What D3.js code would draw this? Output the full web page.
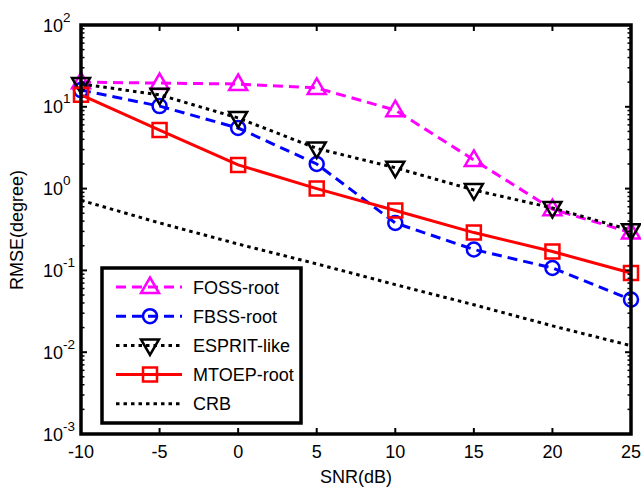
<!DOCTYPE html>
<html><head><meta charset="utf-8">
<script src="https://cdn.jsdelivr.net/npm/d3@7"></script>
<style>body{margin:0;background:#fff}svg{display:block}text{font-family:"Liberation Sans",Arial,sans-serif;fill:#000}</style>
</head><body><svg id="c" width="641" height="489"></svg>
<script>
const snr = [-10, -5, 0, 5, 10, 15, 20, 25];
const xTicks = [-10, -5, 0, 5, 10, 15, 20, 25];
const yTickExps = [-3, -2, -1, 0, 1, 2];
const fossRoot   = [20, 19.5, 19, 17, 9.1, 2.24, 0.56, 0.29];
const fbssRoot   = [16, 10.2, 5.5, 2.0, 0.38, 0.18, 0.107, 0.044];
const espritLike = [19, 14, 7.3, 3.1, 1.8, 0.96, 0.58, 0.31];
const mtoepRoot  = [14, 5.2, 1.95, 1.0, 0.54, 0.29, 0.17, 0.093];
const crb        = [0.72, 0.38, 0.21, 0.12, 0.067, 0.038, 0.021, 0.012];
const seriesNames = ["FOSS-root", "FBSS-root", "ESPRIT-like", "MTOEP-root", "CRB"];

const series = [
  {name: seriesNames[0], values: fossRoot, color: "#ff00ff", dash: "10,6", marker: "up"},
  {name: seriesNames[1], values: fbssRoot, color: "#0000ff", dash: "10,6", marker: "circle"},
  {name: seriesNames[2], values: espritLike, color: "#000000", dash: "3.5,4", marker: "down"},
  {name: seriesNames[3], values: mtoepRoot, color: "#ff0000", dash: null, marker: "square"},
  {name: seriesNames[4], values: crb, color: "#000000", dash: "3.5,4", marker: null}
];

const svg = d3.select("#c");
const L = 81, R = 631, T = 25, B = 434;
const x = d3.scaleLinear().domain([-10, 25]).range([L, R]);
const y = d3.scaleLog().domain([1e-3, 1e2]).range([B, T]);

const plot = svg.append("g");
const clip = svg.append("clipPath").attr("id","clp").append("rect")
  .attr("x", L-12).attr("y", T).attr("width", R-L+24).attr("height", B-T);

function markerPath(type) {
  if (type === "up") return "M0,-9.5L9,6L-9,6Z";
  if (type === "down") return "M0,9.5L9,-6L-9,-6Z";
  if (type === "square") return "M-7,-7H7V7H-7Z";
  if (type === "circle") return d3.arc()({innerRadius:0, outerRadius:7, startAngle:0, endAngle:2*Math.PI});
  return null;
}

const line = d3.line().x((d,i)=>x(snr[i])).y(d=>y(d));
series.forEach(s => {
  const g = plot.append("g");
  g.append("path").datum(s.values).attr("d", line)
    .attr("fill","none").attr("stroke", s.color).attr("stroke-width", 3)
    .attr("stroke-dasharray", s.dash);
  if (s.marker) {
    g.selectAll("path.m").data(s.values).join("path").attr("class","m")
      .attr("transform", (d,i)=>`translate(${x(snr[i])},${y(d)})`)
      .attr("d", markerPath(s.marker))
      .attr("fill","none").attr("stroke", s.color).attr("stroke-width", 2.5);
  }
});

// axes box and ticks
const ax = svg.append("g").attr("stroke","#000");
xTicks.forEach(t => {
  ax.append("line").attr("x1", x(t)).attr("x2", x(t)).attr("y1", B).attr("y2", B-6).attr("stroke-width",2);
  ax.append("line").attr("x1", x(t)).attr("x2", x(t)).attr("y1", T).attr("y2", T+6).attr("stroke-width",2);
  svg.append("text").attr("x", x(t)).attr("y", 458).attr("text-anchor","middle")
    .attr("font-size", 18).text(t);
});
yTickExps.forEach(e => {
  const v = Math.pow(10, e);
  ax.append("line").attr("x1", L).attr("x2", L+6).attr("y1", y(v)).attr("y2", y(v)).attr("stroke-width",2);
  ax.append("line").attr("x1", R).attr("x2", R-6).attr("y1", y(v)).attr("y2", y(v)).attr("stroke-width",2);
  if (e < 2) {
    for (let k = 2; k <= 9; k++) {
      const mv = k * v;
      ax.append("line").attr("x1", L).attr("x2", L+3.5).attr("y1", y(mv)).attr("y2", y(mv)).attr("stroke-width",1.5);
      ax.append("line").attr("x1", R).attr("x2", R-3.5).attr("y1", y(mv)).attr("y2", y(mv)).attr("stroke-width",1.5);
    }
  }
  const tx = svg.append("text").attr("x", 43).attr("y", y(v)+6.5).attr("font-size", 18);
  tx.append("tspan").text("10");
  tx.append("tspan").attr("dy", -10).attr("font-size", 13.5).text(e);
});
ax.append("rect").attr("x", L).attr("y", T).attr("width", R-L).attr("height", B-T)
  .attr("fill","none").attr("stroke-width", 3.5);

// axis labels
svg.append("text").attr("x", 356).attr("y", 483).attr("text-anchor","middle").attr("font-size",18).text("SNR(dB)");
svg.append("text").attr("transform","translate(23,230) rotate(-90)").attr("text-anchor","middle").attr("font-size",18).text("RMSE(degree)");

// legend
const lg = svg.append("g");
lg.append("rect").attr("x",102).attr("y",268).attr("width",199).attr("height",155)
  .attr("fill","#fff").attr("stroke","#000").attr("stroke-width",3.5);
series.forEach((s,i) => {
  const yy = 287 + i*29.2;
  lg.append("line").attr("x1",116).attr("x2",182).attr("y1",yy).attr("y2",yy)
    .attr("stroke", s.color).attr("stroke-width",3).attr("stroke-dasharray", s.dash);
  if (s.marker) lg.append("path").attr("transform",`translate(150,${yy})`).attr("d", markerPath(s.marker))
    .attr("fill","none").attr("stroke", s.color).attr("stroke-width",2.5);
  lg.append("text").attr("x",193).attr("y",yy+6.5).attr("font-size",18).text(s.name);
});
</script></body></html>
